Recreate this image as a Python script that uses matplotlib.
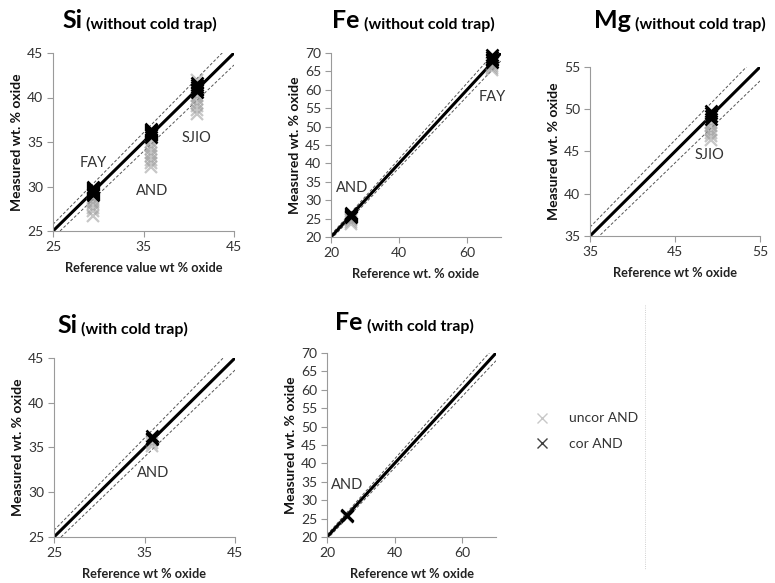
import matplotlib.pyplot as plt
from matplotlib.lines import Line2D
import numpy as np

plt.rcParams['font.family'] = ['Lato', 'DejaVu Sans']

W, H = 775, 583

# --- data (wt % oxide) ---
# Si without cold trap
si1_ref = [29.4, 35.8, 40.9]
si1_names = ['FAY', 'AND', 'SJIO']
si1_cor = [[29.0, 29.2, 29.3, 29.4, 29.5, 29.6, 29.7, 29.8, 30.0],
           [35.6, 35.8, 35.9, 36.0, 36.1, 36.2, 36.4, 36.5],
           [40.6, 40.8, 41.0, 41.2, 41.4, 41.6]]
si1_uncor = [[26.7, 27.2, 27.6, 28.0, 28.3, 28.6, 29.0],
             [32.2, 32.6, 33.0, 33.4, 33.8, 34.2, 34.6, 35.0],
             [38.2, 38.6, 39.0, 39.4, 39.8, 40.2, 42.0]]

# Fe without cold trap
fe1_ref = [26.0, 67.4]
fe1_names = ['AND', 'FAY']
fe1_cor = [[25.4, 25.8, 26.0, 26.3, 26.6],
           [67.5, 68.0, 68.5, 69.0, 69.5]]
fe1_uncor = [[23.5, 24.0, 24.5, 25.0, 25.5],
             [65.5, 66.0, 66.5, 67.0]]

# Mg without cold trap
mg1_ref = [49.2]
mg1_names = ['SJIO']
mg1_cor = [[48.9, 49.2, 49.5, 49.8]]
mg1_uncor = [[46.4, 46.8, 47.2, 47.6, 48.0, 48.4]]

# Si with cold trap
si2_ref = [35.8]
si2_names = ['AND']
si2_cor = [[35.9, 36.1, 36.3]]
si2_uncor = [[35.2, 35.5, 35.8]]

# Fe with cold trap
fe2_ref = [25.8]
fe2_names = ['AND']
fe2_cor = [[25.7, 26.0]]
fe2_uncor = [[25.3, 25.6]]


def box(l, r, t, b):
    return [l / W, 1 - b / H, (r - l) / W, (b - t) / H]


def panel(rect, lim, xticks, yticks, refs, names, cor, uncor, label_pos, xlabel):
    ax = fig.add_axes(rect)
    line = np.array(lim)
    ax.plot(line, line * 1.03, ls=(0, (3, 2)), color='#555555', lw=0.7)
    ax.plot(line, line * 0.97, ls=(0, (3, 2)), color='#555555', lw=0.7)
    ax.plot(line, line, color='black', lw=2.2)
    for r, c, u in zip(refs, cor, uncor):
        ax.plot([r] * len(u), u, 'x', color='#999999', alpha=0.55, ms=9, mew=1.6,
                clip_on=False)
        ax.plot([r] * len(c), c, 'x', color='black', ms=9, mew=1.8, clip_on=False)
    for n, (tx, ty) in zip(names, label_pos):
        ax.text(tx, ty, n, ha='center', va='center', fontsize=10.5, color='#333333')
    ax.set_xlim(lim)
    ax.set_ylim(lim)
    ax.set_xticks(xticks)
    ax.set_yticks(yticks)
    for s in ['top', 'right']:
        ax.spines[s].set_visible(False)
    for s in ['left', 'bottom']:
        ax.spines[s].set_color('#9a9a9a')
        ax.spines[s].set_linewidth(0.8)
    ax.tick_params(direction='out', length=4, color='#9a9a9a', labelsize=10,
                   labelcolor='#333333', pad=3)
    ax.set_xlabel(xlabel, fontsize=9.2, fontweight='bold', color='#222222', labelpad=7)
    ax.set_ylabel('Measured wt. % oxide', fontsize=10, fontweight='bold',
                  color='#111111', labelpad=3)
    return ax


def title(x, y, big, small):
    t = fig.text(x / W, 1 - y / H, big, fontsize=18, fontweight='bold', va='baseline')
    plt.annotate(small, xy=(1, 0), xycoords=t, xytext=(3, 0), textcoords='offset points',
                 fontsize=11.4, fontweight='bold', va='bottom')


fig = plt.figure(figsize=(W / 100, H / 100), dpi=100)

panel(box(53, 234, 53, 231), [25, 45], [25, 35, 45], [25, 30, 35, 40, 45],
      si1_ref, si1_names, si1_cor, si1_uncor,
      [(29.4, 32.6), (36.0, 29.5), (40.9, 35.4)], 'Reference value wt % oxide')
panel(box(331, 501, 53, 237), [20, 70], [20, 40, 60], list(range(20, 71, 5)),
      fe1_ref, fe1_names, fe1_cor, fe1_uncor,
      [(26.2, 33.3), (67.4, 58.0)], 'Reference wt. % oxide')
panel(box(590, 760, 67, 236), [35, 55], [35, 45, 55], [35, 40, 45, 50, 55],
      mg1_ref, mg1_names, mg1_cor, mg1_uncor,
      [(49.1, 44.6)], 'Reference wt % oxide')
panel(box(54, 235, 358, 537), [25, 45], [25, 35, 45], [25, 30, 35, 40, 45],
      si2_ref, si2_names, si2_cor, si2_uncor,
      [(35.9, 32.1)], 'Reference wt % oxide')
panel(box(327, 496, 353, 537), [20, 70], [20, 40, 60], list(range(20, 71, 5)),
      fe2_ref, fe2_names, fe2_cor, fe2_uncor,
      [(25.9, 34.1)], 'Reference wt % oxide')

title(62, 28, 'Si', '(without cold trap)')
title(332, 28, 'Fe', '(without cold trap)')
title(594, 28, 'Mg', '(without cold trap)')
title(57, 333, 'Si', '(with cold trap)')
title(335, 330, 'Fe', '(with cold trap)')

# legend
h_unc = Line2D([], [], ls='none', marker='x', color='#c8c8c8', ms=7, mew=1)
h_cor = Line2D([], [], ls='none', marker='x', color='#404040', ms=7, mew=1)
fig.legend([h_unc, h_cor], ['uncor AND', 'cor AND'], loc='center left',
           bbox_to_anchor=(516 / W, 1 - 431 / H), frameon=False, fontsize=10,
           handletextpad=0.9, labelspacing=0.95, labelcolor='#333333')

# faint dotted frame edge at right
fig.add_artist(Line2D([645 / W, 645 / W], [1 - 305 / H, 1 - 570 / H], ls=':',
                      color='#c0c0c0', lw=0.6))

fig.savefig('out.png', dpi=100)
